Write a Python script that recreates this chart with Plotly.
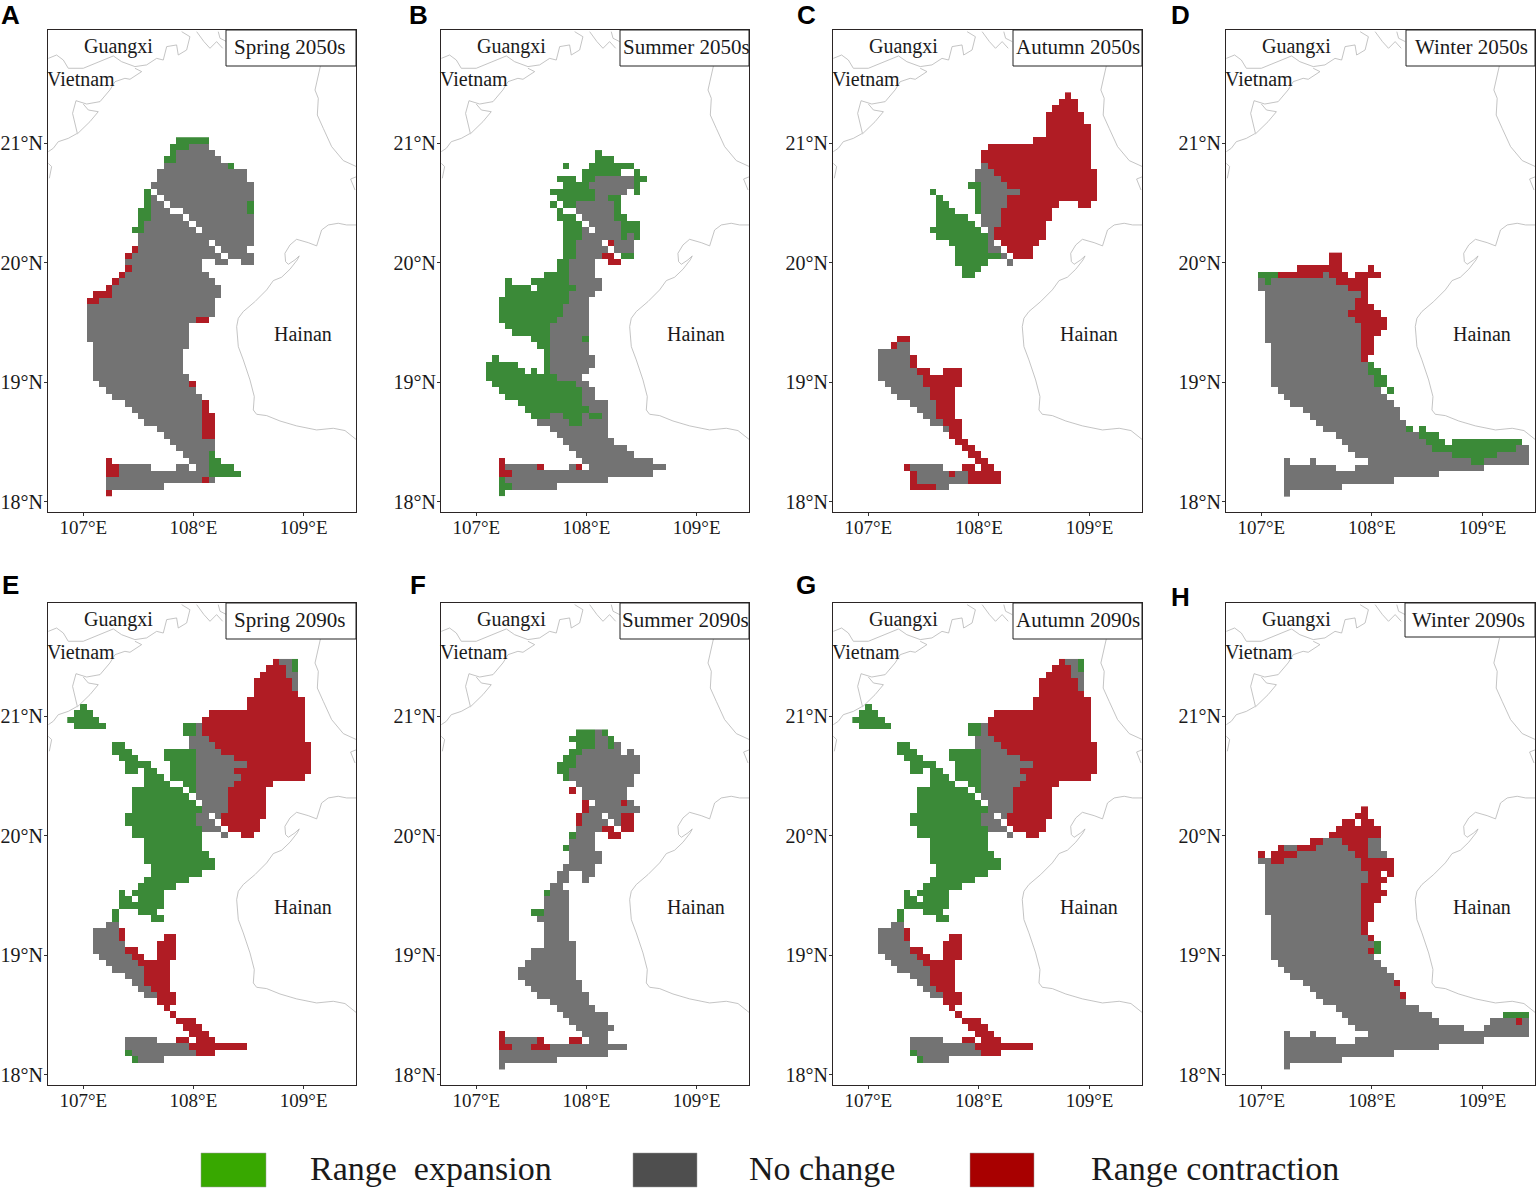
import numpy as np
import plotly.graph_objects as go

# grid rows, bottom row first. e = range expansion, n = no change, r = range contraction
# each entry is code + first column[:last column]
spring_2050s = [
    "r3", "n3:11", "n3:17 r18 n19", "r3:4 n5:18 e19:23", "r3:4 n5:9 n14:15 n17:18 e19:22",
    "r3 n16:18 e19:20", "n15:18 e19", "n14:19", "n13:19", "n12:17 r18:19",
    "n11:17 r18:19", "n9:17 r18:19", "n8:17 r18:19", "n7:17 r18", "n6:17 r18",
    "n4:17", "n3:16", "n2:15 r16", "n1:15", "n1:14",
    "n1:14", "n1:14", "n1:14", "n1:15", "n0:15",
    "n0:15", "n0:15", "n0:16 r17:18", "n0:19", "n0:19",
    "r0:1 n2:19", "r1:3 n4:20", "r3 n4:20", "r4 n5:19", "r5 n6:18",
    "r6 n7:17", "n6:17 n20:21 n24:25", "r6 n7:20 n22:25", "r7 n8:19 n21:24", "n8:18 n20:25",
    "n8:25", "e7:8 n9:16 n18:25", "e8 n9:15 n17:25", "e8:9 n10:14 n16:25", "e8:9 n10:12 n15:24 e25",
    "e9 n10:11 n13:24 e25", "e9 n10 n12:25", "e9 n11:25", "n10:25", "n11:24",
    "n11:24", "n12:21 e22", "e12:13 n14:20", "e13 n14:19", "e13:15 n16:18",
    "e14:18",
]
summer_2050s = [
    "e3", "e3:4 n5:11", "e3 n4:19", "r3:4 n5:26", "r3 n4:8 r9 n14 r15 n17:28",
    "r3 n16:26", "n15:23", "n14:22", "n13:20", "n12:19",
    "n11:19", "n9:13 e14:15 n16:19", "e8:10 n11:12 e13:15 n16 e17:18 n19", "e7:16 n17:19", "e6:15 n16:19",
    "e4:15 n16:17", "e3:15 n16:17", "e2:14 n15:16", "e1:11 n12:15", "e1:6 e8 e10 n11:16",
    "e1:5 e10 n11:17", "e2 e10 n11:17", "e10 n11:16", "e9:10 n11:16", "e8:10 n11:15 e16",
    "e5:10 n11:16", "e4:10 n11:16", "e3:11 n12:16", "e3:12 n13:16", "e3:12 n13:16",
    "e3:13 n14:16", "e4:13 n14:17", "e4:7 e9:14 n15:18", "e4 e8:13 n14:18", "e10:13 n14:17",
    "e12:13 n14:17", "e12:13 n14:17 r20:21", "e13:14 n15:18 r19:20 e22:23", "e13:14 n15:19 n21:23", "e13:14 n15:18 r20 n21:23",
    "e13:15 n16:21 e22 n23 e24", "e13:15 n16 n18:21 e22:24", "e13:15 n17:21 e22:24", "e12:14 n16:20 e21:22", "e12 n15:20 e21",
    "e11 e13:14 n15:20 e21", "e12:17 n18:19 e20:21", "e11:17 n18:22 e24", "e13:16 n17:23 e24", "e12:14 e16:17 n18:23 e24:25",
    "e16:21 e24", "e13 e17:23", "e18:20", "e18",
]
autumn_2050s = [
    "", "r6:9 n10:11", "r6 n7:14 r15:19", "r6 n7:11 r12 n13:14 r15:19", "r5 n6:10 r14:15 r17:18",
    "r16:17", "r15:16", "r14:15", "r13:14", "r12:13",
    "n11 r12:13", "n9:10 r11:13", "n8:9 r10:12", "n7:9 r10:12", "n6:9 r10:12",
    "n4:8 r9:12", "n3:8 r9:12", "n2:7 r8:13", "n1:7 r8:13", "n1:6 r7:8 r11:13",
    "n1:5 r6", "n1:5 r6", "n1:5", "r3 n4:5", "r4:5",
    "", "", "", "", "",
    "", "", "", "", "e14:15",
    "e14:16", "e13:17 n21", "e13:19 n20 r22:24", "e13:17 n18:19 r21:24", "e12:17 n18 r20:25",
    "e10:17 n18 r19:26", "e9:16 n18 r19:26", "e10:15 n17:19 r20:26", "e10:14 n17:19 r20:27", "e10:12 e16 n17:19 r20:27",
    "e10:11 e16 n17:20 r21:28 r32:33", "e10 e16 n17:20 r21:34", "e9 e16 n17:22 r23:34", "e15:16 n17:20 r21:34", "n16:19 r20:34",
    "n16:18 r19:34", "n17 r18:33", "r17:33", "r17:33", "r18:33",
    "r25:33", "r27:33", "r27:33", "r27:32", "r27:32",
    "r28:31", "r29:31", "r30",
]
winter_2050s = [
    "n3", "n3:11", "n3:19", "n3:26", "n3:10 n14:33",
    "n3 n7 n16:31 e32:33 n34:40", "n14:28 e29:35 n36:40", "n13:25 e26:28 e29:38 n39:40", "n12:24 e25:27 e29:39", "n11:23 e24:26",
    "n9:21 e22 e24", "n8:21", "n7:20", "n6:20", "n4:19",
    "n3:18", "n2:17 e19", "n1:16 e17:18", "n1:16 e17:18", "n1:15 e16:17",
    "n1:15 e16", "n1:14 r15", "n1:14 r15:16", "n1:14 r15:16", "n0:14 r15:16",
    "n0:14 r15:17", "n0:14 r15:18", "n0:13 r14:18", "n0:12 r13:17", "n0:13 r14:16",
    "n0:13 r14:15", "n0:14 r15", "n-1:12 r13:15", "n-1 e0 n1:10 r11:15", "e-1:1 r2:8 n9 r10:12 r14:17",
    "r5:11 r16", "r10:11", "r10:11",
]
spring_2090s = [
    "", "e7 n8:11", "e6 n7:16 r17:19", "n6:15 r16:24", "n6:10 r14:15 r17:19",
    "r16:18", "r15:17", "r14:16", "r13", "r12",
    "r11:13", "n9:10 r11:13", "n8:9 r10:12", "n7:8 r9:12", "n6:8 r9:12",
    "n4:8 r9:12", "n3:7 r8:12", "n2:6 r7:8 r11:13", "n1:5 r6:7 r11:13", "n1:5 r11:13",
    "n1:4 r5 r12:13", "n1:4 r5", "n3:4", "e4 e10:11", "e4 e8:10",
    "e5:11", "e5:6 e8:11", "e5 e7:11", "e8:13", "e9:15",
    "e10:17", "e10:19", "e9:19", "e9:18", "e9:17",
    "e9:17", "e7:17 n21 r24:25", "e7:17 n18:20 r22:26", "e6:16 n17:19 r21:26", "e6:16 n17:18 n20 r21:27",
    "e7:17 n18:21 r22:27", "e7:16 n18:21 r22:27", "e7:15 n17:21 r22:27", "e7:14 e16 n17:21 r22:27", "e9:12 e15:16 n17:22 r23:28",
    "e9:11 e13:16 n17:23 r24:33", "e6:7 e9:10 e13:16 n17:22 r23:34", "e6:9 e13:16 n17:24 r25:34", "e5:7 e12:16 n17:22 r23:34", "e4:6 e12:16 n17:20 r21:34",
    "e4:5 n16:19 r20:34", "n16:18 r19:33", "e15:16 n17 r18:33", "e-2:2 e15:16 n17 r18:33", "e-3:1 r18:33",
    "e-2:0 r19:33", "e-1 r25:33", "r25:33", "r26:32", "r26:31 n32",
    "r26:31 n32", "r27:30 n31:32", "r28:30 n31 e32", "r29 n30:31 e32",
]
summer_2090s = [
    "n3", "n3:11", "n3:19", "r3:4 n5:7 r8:10 n11:22", "r3 n4:8 r9 r14:15 n17:19",
    "r3 n16:19", "n15:20", "n14:19", "n13:19", "n12:17",
    "n11:16", "n9:16", "n8:15", "n7:15", "n6:14",
    "n6:14", "n7:14", "n8:14", "n8:14", "n10:14",
    "n10:13", "n10:13", "n10:13", "n9:13", "e8:9 n10:13",
    "n10:13", "n10:13", "e10 n11:13", "n11:12", "n12:13 n16",
    "n12:13 n16:17", "n13:17", "n14:18", "n14:18", "e13 n14:17",
    "n14:17", "e14 n15:17 r20:21", "n15:18 r19:20 r22:23", "r15 n16:19 n21 r22:23", "r15 n16:18 n20:21 r22:23",
    "r16 n17:24", "r16 n18:21 r22 n23", "n16:22", "r14 n16:22", "n15:23",
    "e13 n14:23", "e12:13 n14:24", "e12:14 n15:24", "e13:14 n15:24", "e14:15 n16:21 n23",
    "e15:17 n18:19 e20 n21", "e14:17 n18:19 e20", "e15:17 n18 e19",
]
autumn_2090s = list(spring_2090s)
winter_2090s = [
    "n3", "n3:11", "n3:19", "n3:26", "n3:10 n14:33",
    "n3 n7 n16:40", "n14:30 n34:40", "n13:26 n35:38 r39 n40", "n12:25 e37:40", "n11:23",
    "n9:21", "n8:20 r21", "n7:20", "n6:19 r20", "n4:19",
    "n3:18", "n2:17", "n1:16", "n1:15 r16 e17", "n1:16 e17",
    "n1:15 r16", "n1:14 r15", "n1:14 r15", "n1:14 r15:16", "n0:14 r15:16",
    "n0:14 r15:16", "n0:14 r15:17", "n0:14 r15:18", "n0:14 r15:17", "n0:15 r16:18",
    "n0:15 r16:17 r19", "n0:14 r15:19", "n-1:0 r1:2 n3:14 r15:19", "r-1 r1:4 n5:13 r14:15 n16:18", "r2 n3:4 r5:7 n8:12 r13:15 n16:17",
    "r7:8 n9:11 r12:15 n16:17", "r10:17", "r11:17", "r12:13 r15:16", "r14:15",
    "r15",
]

panels = [spring_2050s, summer_2050s, autumn_2050s, winter_2050s,
          spring_2090s, summer_2090s, autumn_2090s, winter_2090s]
panel_names = ["Spring 2050s", "Summer 2050s", "Autumn 2050s", "Winter 2050s",
               "Spring 2090s", "Summer 2090s", "Autumn 2090s", "Winter 2090s"]
panel_letters = ["A", "B", "C", "D", "E", "F", "G", "H"]

status_codes = {"e": 1, "n": 2, "r": 3}
legend_names = ["Range  expansion", "No change", "Range contraction"]
legend_colors = ["#38a800", "#4e4e4e", "#a80000"]
cell_colors = ["#3b8a38", "#737373", "#b01c24"]

lon_ticks = [107, 108, 109]
lon_labels = ["107°E", "108°E", "109°E"]
lat_ticks = [18, 19, 20, 21]
lat_labels = ["18°N", "19°N", "20°N", "21°N"]

# coastlines, pieces split with None
coast_lon = [
    106.683, 106.758, 106.819, 106.864, 107.000, 107.152, 107.273, 107.348, 107.469, 107.575,
    107.666, 107.726, 107.757, 107.847, 107.862, 107.938, 107.968, 107.893, None,
    108.029, 108.095, 108.150, 108.210, 108.265, None,
    108.225, 108.241, 108.301, None,
    107.469, 107.530, 107.424, 107.378, 107.288, 107.242, 107.152, 107.031, 106.934, 106.903,
    106.946, 106.864, 106.773, 106.728, 106.683, None,
    107.000, 107.046, 107.136, 107.061, 106.946, None,
    106.683, 106.713, 106.692, None,
    109.154, 109.103, 109.133, 109.124, 109.178, 109.254, 109.360, 109.481, None,
    109.481, 109.426, 109.466, None,
    109.481, 109.390, 109.314, 109.224, 109.163, 109.142, 109.118, 109.042, 108.936, 108.876,
    108.830, 108.836, 108.861, 108.921, 108.960, 108.942, 108.876, 108.800, 108.725, 108.664,
    108.558, 108.452, 108.407, 108.392, 108.407, 108.452, 108.513, 108.552, 108.543, 108.573,
    108.664, 108.785, 108.936, 109.118, 109.269, 109.375, 109.451, 109.481,
]
coast_lat = [
    21.709, 21.737, 21.695, 21.626, 21.626, 21.681, 21.729, 21.681, 21.640, 21.654,
    21.709, 21.695, 21.807, 21.821, 21.737, 21.779, 21.890, 21.932, None,
    21.932, 21.849, 21.793, 21.849, 21.793, None,
    21.932, 21.877, 21.849, None,
    21.626, 21.598, 21.534, 21.542, 21.514, 21.445, 21.347, 21.327, 21.355, 21.249,
    21.082, 21.040, 21.012, 20.957, 20.929, None,
    21.327, 21.277, 21.263, 21.180, 21.077, None,
    20.831, 20.804, 20.706, None,
    21.653, 21.444, 21.375, 21.235, 21.124, 20.971, 20.854, 20.803, None,
    20.720, 20.700, 20.608, None,
    20.316, 20.316, 20.330, 20.316, 20.274, 20.219, 20.141, 20.168, 20.196, 20.149,
    20.079, 20.010, 19.987, 20.024, 20.057, 20.024, 19.946, 19.879, 19.851, 19.773,
    19.675, 19.592, 19.536, 19.466, 19.299, 19.188, 19.020, 18.881, 18.769, 18.733,
    18.722, 18.677, 18.636, 18.602, 18.616, 18.597, 18.546, 18.519,
]
region_names = ["Guangxi", "Vietnam", "Hainan"]
region_lon = [107.316, 106.980, 108.993]
region_lat = [21.804, 21.537, 19.405]

# grid of the raster
lon_start, lon_step = 107.03, 0.05835
lat_start, lat_step = 18.0477, 0.0536
first_col, last_col = -3, 41
col_ids = np.arange(first_col, last_col + 1)
lons = lon_start + (col_ids + 0.5) * lon_step

FIG_W, FIG_H = 1536, 1188
panel_x = [(48, 356), (441, 749), (833, 1142), (1226, 1535)]
panel_y = [(30, 512), (603, 1085)]
box_left = [226, 620, 1013, 1406, 226, 620, 1013, 1405]
box_text_x = [289, 686, 1078, 1471, 289, 685, 1078, 1468]
letter_pos = [(10, 15), (418, 15), (806, 15), (1180, 15), (10, 585), (418, 585), (806, 585), (1180, 597)]
serif = "Liberation Serif"


def px(x):
    return x / FIG_W


def py(y):
    return 1 - y / FIG_H


def rows_to_grid(rows):
    # turn the row strings into a z array for the heatmap
    z = np.full((len(rows), len(col_ids)), np.nan)
    for j, row in enumerate(rows):
        for part in row.split():
            ends = part[1:].split(":")
            a = int(ends[0])
            b = int(ends[-1])
            z[j, a - first_col:b - first_col + 1] = status_codes[part[0]]
    return z


colorscale = [[0, cell_colors[0]], [0.33, cell_colors[0]],
              [0.33, cell_colors[1]], [0.66, cell_colors[1]],
              [0.66, cell_colors[2]], [1, cell_colors[2]]]

fig = go.Figure()
layout = {}
shapes = []
annotations = []

for n, rows in enumerate(panels):
    num = n + 1
    x0, x1 = panel_x[n % 4]
    y0, y1 = panel_y[n // 4]
    z = rows_to_grid(rows)
    lats = lat_start + (np.arange(len(rows)) + 0.5) * lat_step

    fig.add_trace(go.Heatmap(x=lons, y=lats, z=z, colorscale=colorscale, zmin=1, zmax=3,
                             showscale=False, hoverinfo="skip", xaxis=f"x{num}", yaxis=f"y{num}"))
    fig.add_trace(go.Scatter(x=coast_lon, y=coast_lat, mode="lines", showlegend=False,
                             line=dict(color="#b5b5b5", width=0.8), hoverinfo="skip",
                             xaxis=f"x{num}", yaxis=f"y{num}"))

    layout[f"xaxis{num}"] = dict(domain=[px(x0), px(x1)], range=[106.68, 109.475], anchor=f"y{num}",
                                 tickvals=lon_ticks, ticktext=lon_labels, ticks="outside", ticklen=3,
                                 ticklabelstandoff=-5,
                                 tickcolor="#333333", tickfont=dict(family=serif, size=19, color="#1a1a1a"),
                                 showgrid=False, zeroline=False, showline=True, mirror=True,
                                 linecolor="#2b2525", linewidth=1)
    layout[f"yaxis{num}"] = dict(domain=[py(y1), py(y0)], range=[17.916, 21.946], anchor=f"x{num}",
                                 tickvals=lat_ticks, ticktext=lat_labels, ticks="outside", ticklen=3,
                                 ticklabelstandoff=-3,
                                 tickcolor="#333333", tickfont=dict(family=serif, size=20, color="#1a1a1a"),
                                 showgrid=False, zeroline=False, showline=True, mirror=True,
                                 linecolor="#2b2525", linewidth=1)

    for name, lon, lat in zip(region_names, region_lon, region_lat):
        annotations.append(dict(x=lon, y=lat, xref=f"x{num}", yref=f"y{num}", text=name, showarrow=False,
                                xanchor="center", yanchor="middle",
                                font=dict(family=serif, size=20, color="#1a1a1a")))

    # season label box
    box_h = 36 if n != 7 else 34
    shapes.append(dict(type="rect", xref="paper", yref="paper", x0=px(box_left[n]), x1=px(x1),
                       y0=py(y0 + box_h), y1=py(y0), fillcolor="white", line=dict(color="#222222", width=1)))
    annotations.append(dict(x=px(box_text_x[n]), y=py(y0 + 17), xref="paper", yref="paper",
                            text=panel_names[n], showarrow=False, xanchor="center", yanchor="middle",
                            font=dict(family=serif, size=21, color="#1a1a1a")))

    annotations.append(dict(x=px(letter_pos[n][0]), y=py(letter_pos[n][1]), xref="paper", yref="paper",
                            text=f"<b>{panel_letters[n]}</b>", showarrow=False,
                            xanchor="center", yanchor="middle",
                            font=dict(family="Liberation Sans", size=26, color="black")))

# legend along the bottom
key_x = [(201, 266), (633, 697), (970, 1034)]
label_x = [431, 822, 1215]
for name, color, (k0, k1), lx in zip(legend_names, legend_colors, key_x, label_x):
    shapes.append(dict(type="rect", xref="paper", yref="paper", x0=px(k0), x1=px(k1),
                       y0=py(1187), y1=py(1153), fillcolor=color, line=dict(color="#999999", width=0.5)))
    annotations.append(dict(x=px(lx), y=py(1168), xref="paper", yref="paper", text=name, showarrow=False,
                            xanchor="center", yanchor="middle",
                            font=dict(family=serif, size=34, color="#1a1a1a")))

fig.update_layout(width=FIG_W, height=FIG_H, margin=dict(l=0, r=0, t=0, b=0),
                  paper_bgcolor="white", plot_bgcolor="white", showlegend=False,
                  shapes=shapes, annotations=annotations, **layout)

fig.write_html("out.html", config={"displayModeBar": False},
               post_script="document.body.style.margin='0';")
